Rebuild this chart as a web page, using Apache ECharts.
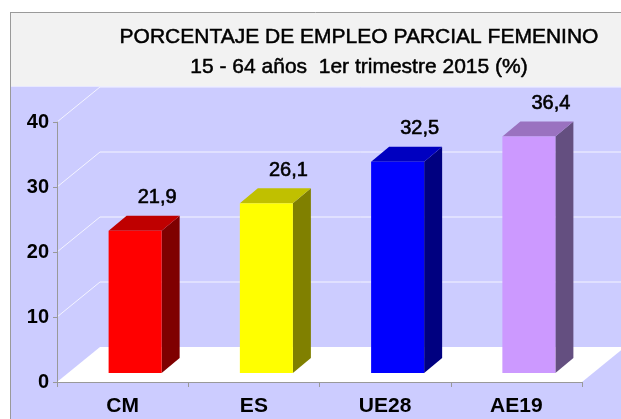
<!DOCTYPE html>
<html>
<head>
<meta charset="utf-8">
<script src="https://cdn.jsdelivr.net/npm/echarts@6/dist/echarts.min.js"></script>
<style>
  html, body { margin: 0; padding: 0; background: #fff; }
  #chart { width: 621px; height: 419px; }
</style>
</head>
<body>
<div id="chart"></div>
<script>
const categories = ['CM', 'ES', 'UE28', 'AE19'];
const values = [21.9, 26.1, 32.5, 36.4];
const yTicks = [10, 20, 30, 40];

// front / top / side colours for each bar
const frontColors = ['#ff0000', '#ffff00', '#0000ff', '#cc99ff'];
const topColors = ['#bf0000', '#c0c000', '#0000c0', '#9a72c0'];
const sideColors = ['#7f0000', '#808000', '#000080', '#644f80'];

const FONT = '"Liberation Sans", Arial, sans-serif';
// depth of the 3d box (wall / floor) and of each bar
const wallDx = 43, wallDy = -35;
const barDx = 18, barDy = -15;
const barShiftX = 12.5, barShiftY = -9;

const myChart = echarts.init(document.getElementById('chart'));

const fmt = function (v) { return String(v).replace('.', ','); };

myChart.setOption({
  animation: false,
  backgroundColor: '#ffffff',
  title: {
    text: 'PORCENTAJE DE EMPLEO PARCIAL FEMENINO\n15 - 64 años  1er trimestre 2015 (%)',
    left: 354,
    top: 17,
    textAlign: 'center',
    textStyle: {
      fontFamily: FONT,
      fontSize: 21,
      fontWeight: 'normal',
      color: '#000',
      lineHeight: 30,
      textBorderColor: '#000',
      textBorderWidth: 0.5
    }
  },
  graphic: [
    { type: 'rect', z: -10, silent: true, shape: { x: 11, y: 12, width: 610, height: 74 }, style: { fill: '#f2f2f2' } },
    { type: 'rect', z: -10, silent: true, shape: { x: 11, y: 86, width: 610, height: 333 }, style: { fill: '#ccccff' } },
    { type: 'line', z: -9, silent: true, shape: { x1: 11, y1: 86.5, x2: 621, y2: 86.5 }, style: { stroke: '#e8e8ff', lineWidth: 1 } },
    { type: 'line', z: -9, silent: true, shape: { x1: 10.5, y1: 12, x2: 10.5, y2: 419 }, style: { stroke: '#9a9a9a', lineWidth: 1 } },
    { type: 'line', z: -9, silent: true, shape: { x1: 10, y1: 12.5, x2: 621, y2: 12.5 }, style: { stroke: '#9a9a9a', lineWidth: 1 } }
  ],
  grid: { left: 57, right: 39, top: 122, bottom: 37 },
  xAxis: {
    type: 'category',
    data: categories,
    boundaryGap: true,
    axisLine: { lineStyle: { color: '#999', width: 1 } },
    axisTick: { show: true, length: 5, lineStyle: { color: '#999' } },
    axisLabel: { margin: 14, fontFamily: FONT, fontSize: 21, fontWeight: 'bold', color: '#000' },
    z: 1
  },
  yAxis: {
    type: 'value',
    min: 0,
    max: 40,
    interval: 10,
    axisLine: { show: true, lineStyle: { color: '#999', width: 1 } },
    axisTick: { show: true, length: 4, lineStyle: { color: '#999' } },
    axisLabel: { margin: 8, fontFamily: FONT, fontSize: 20, fontWeight: 'bold', color: '#000' },
    splitLine: { show: false }
  },
  series: [
    {
      // back wall grid lines
      type: 'custom',
      clip: false,
      silent: true,
      z: 0,
      data: yTicks.map(function (v) { return [0, v]; }),
      renderItem: function (params, api) {
        const band = api.size([1, 0])[0];
        const p = api.coord([0, api.value(1)]);
        const x0 = p[0] - band / 2;
        const y0 = p[1];
        return {
          type: 'polyline',
          shape: { points: [[x0, y0], [x0 + wallDx, y0 + wallDy], [api.getWidth(), y0 + wallDy]] },
          style: { stroke: '#f4f4ff', lineWidth: 1, fill: null }
        };
      }
    },
    {
      // floor
      type: 'custom',
      clip: false,
      silent: true,
      z: 0,
      data: [[0, 0]],
      renderItem: function (params, api) {
        const band = api.size([1, 0])[0];
        const p0 = api.coord([0, 0]);
        const p1 = api.coord([categories.length - 1, 0]);
        const xl = p0[0] - band / 2;
        const xr = p1[0] + band / 2;
        const y = p0[1];
        return {
          type: 'polygon',
          shape: { points: [[xl, y], [xl + wallDx, y + wallDy], [xr + wallDx, y + wallDy], [xr, y]] },
          style: { fill: '#ffffff' }
        };
      }
    },
    {
      // 3d bars
      type: 'custom',
      clip: false,
      z: 2,
      data: values.map(function (v, i) { return [i, v]; }),
      renderItem: function (params, api) {
        const i = api.value(0);
        const v = api.value(1);
        const band = api.size([1, 0])[0];
        const half = band * 0.202;
        const base = api.coord([i, 0]);
        const top = api.coord([i, v]);
        const cx = base[0] + barShiftX;
        const xl = cx - half, xr = cx + half;
        const yb = base[1] + barShiftY;
        const yt = top[1] + barShiftY;
        return {
          type: 'group',
          children: [
            {
              type: 'polygon',
              shape: { points: [[xr, yb], [xr + barDx, yb + barDy], [xr + barDx, yt + barDy], [xr, yt]] },
              style: { fill: sideColors[i] }
            },
            {
              type: 'polygon',
              shape: { points: [[xl, yt], [xl + barDx, yt + barDy], [xr + barDx, yt + barDy], [xr, yt]] },
              style: { fill: topColors[i] }
            },
            {
              type: 'rect',
              shape: { x: xl, y: yt, width: xr - xl, height: yb - yt },
              style: { fill: frontColors[i] }
            },
            {
              type: 'text',
              style: {
                x: cx + 22,
                y: yt - 33,
                text: fmt(v),
                align: 'center',
                verticalAlign: 'middle',
                fontFamily: FONT,
                fontSize: 20,
                fill: '#000',
                stroke: '#000',
                lineWidth: 0.6
              }
            }
          ]
        };
      }
    }
  ]
});
</script>
</body>
</html>
